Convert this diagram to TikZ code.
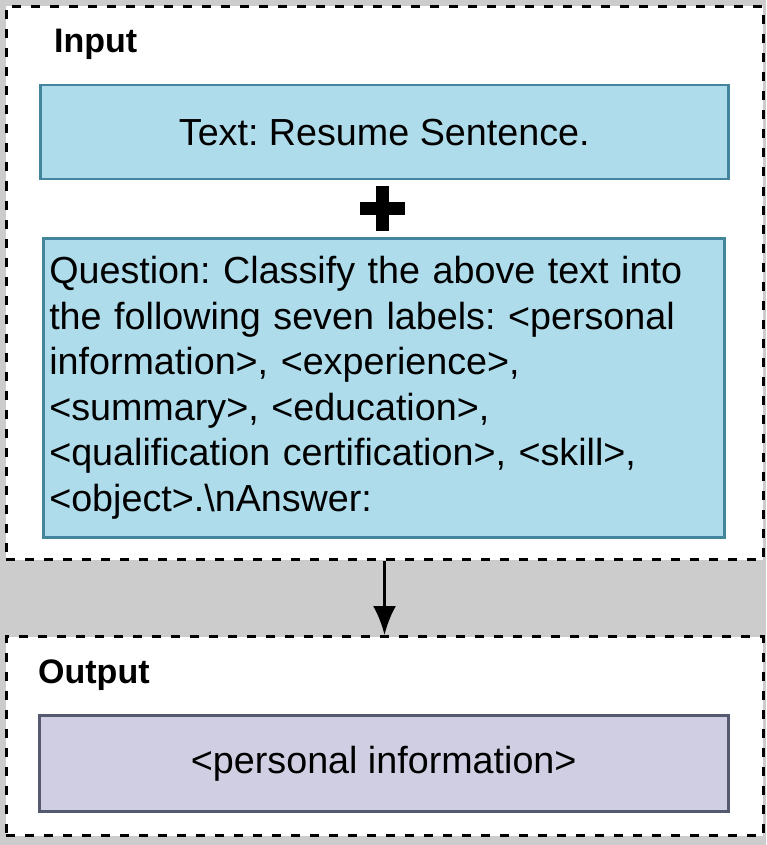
\documentclass[tikz,border=0pt]{standalone}
\usepackage{fontspec}
\setmainfont{Liberation Sans}
\usepackage{tikz}
\usetikzlibrary{arrows.meta, positioning, calc}
\definecolor{bggray}{RGB}{204,204,204}
\definecolor{inblue}{RGB}{174,220,235}
\definecolor{inedge}{RGB}{68,133,158}
\definecolor{outlav}{RGB}{208,206,226}
\definecolor{outedge}{RGB}{85,90,112}
\tikzset{
    groupbox/.style={rectangle, fill=white, draw=black, line width=3pt, dash pattern=on 9pt off 10pt, anchor=north west, inner sep=0pt},
    grouplabel/.style={anchor=base west, inner sep=0pt, font=\fontsize{34pt}{40pt}\selectfont\bfseries},
    inputbox/.style={rectangle, fill=inblue, draw=inedge, line width=2.5pt, anchor=north west, inner sep=0pt, font=\fontsize{37.7pt}{45.6pt}\selectfont\frenchspacing},
    outputbox/.style={rectangle, fill=outlav, draw=outedge, line width=2.5pt, anchor=north west, inner sep=0pt, font=\fontsize{37.7pt}{45.6pt}\selectfont},
    flowarrow/.style={-{Latex[length=29pt,width=23pt]}, line width=3pt, draw=black}
}
\begin{document}
\begin{tikzpicture}[x=1pt, y=-1pt]
    \fill[bggray] (0,0) rectangle (766,845);
    \useasboundingbox (0,0) rectangle (766,845);

    % Input group
    \node[groupbox, minimum width=757pt, minimum height=553pt] (inputgrp) at (4.5,5) {};
    \node[grouplabel] (inputlbl) at (54,53) {Input};
    \node[inputbox, minimum width=688pt, minimum height=94pt] (textbox) at (39,84) {Text: Resume Sentence.};
    \fill[black] (360,202) rectangle (405,215);
    \fill[black] (376,186) rectangle (389,231);
    \node[inputbox, minimum width=681pt, minimum height=299pt, text width=669pt, align=left] (questionbox) at (42,237)
        {Question: Classify the above text into\\
         the following seven labels: <personal\\
         information>, <experience>,\\
         <summary>, <education>,\\
         <qualification certification>, <skill>,\\
         <object>.\textbackslash nAnswer:};

    % Output group
    \node[groupbox, minimum width=757pt, minimum height=199pt] (outputgrp) at (4.5,635) {};
    \node[grouplabel] (outputlbl) at (38,683) {Output};
    \node[outputbox, minimum width=689pt, minimum height=96pt] (answerbox) at (38,714) {<personal information>};

    % Flow
    \draw[flowarrow] (inputgrp.south) -- (outputgrp.north);
\end{tikzpicture}
\end{document}
